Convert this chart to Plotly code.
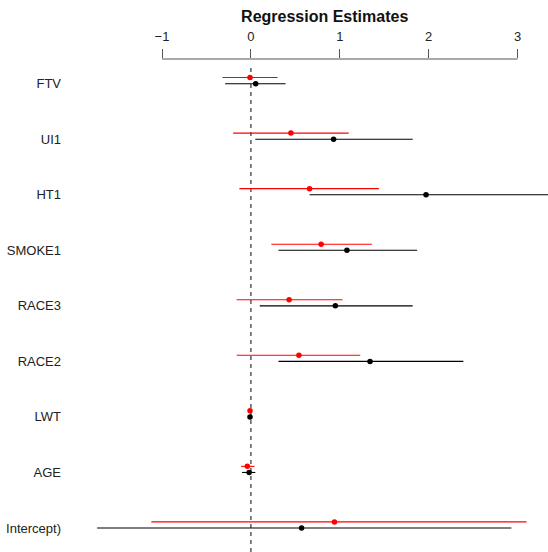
import plotly.graph_objects as go

# Coefficient names, bottom to top (as displayed; leading "(" is cut off in the reference)
terms = ["Intercept)", "AGE", "LWT", "RACE2", "RACE3", "SMOKE1", "HT1", "UI1", "FTV"]

# Model 1 (black)
est_black = [0.57, -0.02, -0.01, 1.34, 0.95, 1.08, 1.97, 0.93, 0.054]
lo_black = [-1.73, -0.10, -0.018, 0.31, 0.10, 0.31, 0.66, 0.05, -0.29]
hi_black = [2.93, 0.05, -0.003, 2.39, 1.82, 1.87, 3.36, 1.82, 0.39]

# Model 2 (red)
est_red = [0.94, -0.04, -0.01, 0.54, 0.43, 0.79, 0.66, 0.45, -0.01]
lo_red = [-1.12, -0.11, -0.016, -0.16, -0.16, 0.23, -0.13, -0.20, -0.32]
hi_red = [3.10, 0.04, -0.004, 1.23, 1.03, 1.36, 1.44, 1.10, 0.30]

xticks = [-1, 0, 1, 2, 3]
xticktext = ["\u22121", "0", "1", "2", "3"]

pos = list(range(1, len(terms) + 1))
offset = 0.11

W, H = 548, 552
L, T = 62, 59
px0, unit = 250.9, 88.9
x_range = [(L - px0) / unit, (W - px0) / unit]
row0_px, row_step = 528.0, 55.54
y_range = [1 - (H - row0_px) / row_step, 1 + (row0_px - T) / row_step]

fig = go.Figure()


def add_series(est, lo, hi, ys, color):
    fig.add_trace(go.Scatter(
        x=est, y=ys, mode="markers",
        marker=dict(color=color, size=5.5, line=dict(width=0)),
        error_x=dict(type="data", symmetric=False,
                     array=[h - e for h, e in zip(hi, est)],
                     arrayminus=[e - l for e, l in zip(est, lo)],
                     color=color, thickness=1.1, width=0),
        showlegend=False, hoverinfo="skip"))


add_series(est_black, lo_black, hi_black, pos, "#000000")
add_series(est_red, lo_red, hi_red, [p + offset for p in pos], "#ff0000")

fig.add_shape(type="line", xref="x", yref="paper", x0=0, x1=0, y0=0, y1=0.985,
              line=dict(color="#333333", width=1.2, dash="4px,4px"), layer="below")
fig.add_shape(type="line", xref="x", yref="paper", x0=-1, x1=3, y0=1, y1=1,
              line=dict(color="#555555", width=1.2))

fig.update_layout(
    width=W, height=H,
    margin=dict(l=L, r=0, t=T, b=0),
    plot_bgcolor="white", paper_bgcolor="white",
    font=dict(family="Liberation Sans, Arial, sans-serif", size=13, color="#222222"),
    title=dict(text="<b>Regression Estimates</b>", x=324.7 / W, xanchor="center",
               y=1 - 16 / H, yanchor="middle", font=dict(size=16, color="#111111")),
    xaxis=dict(range=x_range, side="top", showgrid=False, zeroline=False, showline=False,
               tickvals=xticks, ticktext=xticktext, ticks="outside", ticklen=9,
               tickwidth=1.2, tickcolor="#555555", tickfont=dict(size=13, color="#222222"),
               ticklabelstandoff=3, fixedrange=True),
    yaxis=dict(range=y_range, showgrid=False, zeroline=False, showline=False,
               tickvals=pos, ticktext=terms, ticks="", automargin=False,
               tickfont=dict(size=13, color="#222222"), fixedrange=True),
)

fig.write_html("out.html")
